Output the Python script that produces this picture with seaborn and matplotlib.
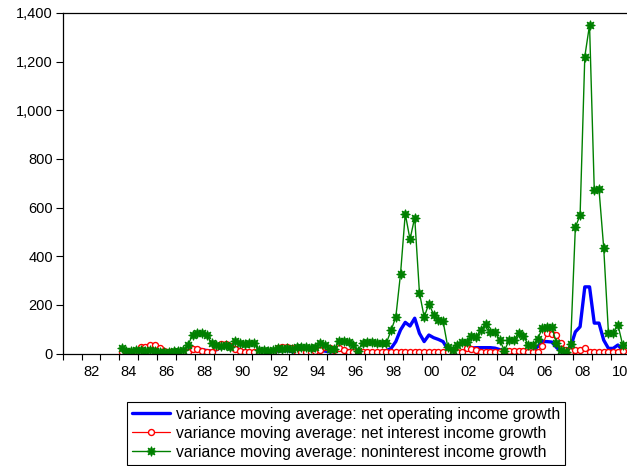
import numpy as np
import pandas as pd
import matplotlib
matplotlib.use("Agg")
import matplotlib.pyplot as plt
import seaborn as sns
from matplotlib.ticker import FuncFormatter, FixedLocator, NullFormatter

# ---- data (quarterly, 1984Q1 - 2010Q3) ----
start_year = 1984

net_operating = [
    5, 6, 8, 10,        # 1984
    12, 15, 18, 16,     # 1985
    10, 6, 4, 4,        # 1986
    5, 8, 12, 18,       # 1987
    20, 16, 12, 10,     # 1988
    15, 25, 28, 28,     # 1989
    25, 15, 8, 6,       # 1990
    5, 5, 5, 6,         # 1991
    8, 10, 12, 12,      # 1992
    8, 4, 3, 4,         # 1993
    6, 8, 12, 10,       # 1994
    6, 8, 14, 14,       # 1995
    12, 8, 5, 5,        # 1996
    5, 6, 7, 8,         # 1997
    12, 21, 49, 97,     # 1998
    128, 113, 145, 83,  # 1999
    49, 76, 65, 58,     # 2000
    49, 17, 6, 6,       # 2001
    8, 14, 22, 24,      # 2002
    24, 24, 24, 22,     # 2003
    16, 7, 8, 8,        # 2004
    8, 8, 8, 10,        # 2005
    28, 49, 49, 47,     # 2006
    25, 7, 5, 28,       # 2007
    89, 110, 274, 274,  # 2008
    125, 125, 55, 21,   # 2009
    21, 35, 14,         # 2010
]

net_interest = [
    5, 6, 8, 12,
    28, 28, 35, 35,
    24, 12, 5, 5,
    5, 5, 8, 18,
    18, 11, 7, 7,
    28, 38, 38, 32,
    20, 10, 7, 8,
    8, 5, 5, 5,
    8, 24, 28, 28,
    24, 8, 7, 7,
    7, 10, 14, 28,
    24, 16, 21, 14,
    7, 5, 5, 5,
    7, 7, 7, 7,
    7, 7, 7, 8,
    8, 8, 8, 7,
    7, 8, 8, 8,
    7, 5, 5, 5,
    8, 21, 17, 13,
    8, 8, 7, 7,
    5, 5, 12, 12,
    12, 12, 8, 8,
    7, 31, 83, 81,
    76, 42, 14, 10,
    14, 14, 21, 7,
    7, 7, 7, 7,
    7, 7, 10,
]

noninterest = [
    21, 11, 11, 14,
    14, 11, 14, 11,
    7, 7, 7, 11,
    11, 14, 35, 76,
    83, 83, 76, 42,
    35, 31, 35, 28,
    50, 42, 40, 42,
    42, 14, 14, 11,
    14, 21, 18, 21,
    18, 28, 28, 28,
    21, 28, 42, 35,
    18, 18, 53, 53,
    49, 35, 12, 45,
    47, 47, 45, 43,
    43, 95, 150, 328,
    575, 469, 559, 250,
    150, 205, 160, 136,
    133, 26, 16, 33,
    47, 47, 71, 68,
    97, 122, 88, 88,
    54, 12, 56, 56,
    84, 74, 36, 36,
    58, 104, 110, 110,
    42, 14, 7, 40,
    520, 568, 1221, 1351,
    674, 676, 434, 85,
    85, 119, 36,
]

series_labels = [
    "variance moving average: net operating income growth",
    "variance moving average: net interest income growth",
    "variance moving average: noninterest income growth",
]

year_labels = ["82", "84", "86", "88", "90", "92", "94", "96", "98",
               "00", "02", "04", "06", "08", "10"]
label_years = [1982 + 2 * i for i in range(len(year_labels))]
y_ticks = [0, 200, 400, 600, 800, 1000, 1200, 1400]

n = len(net_operating)
t = [start_year + i // 4 + ((i % 4) + 0.5) / 4 for i in range(n)]
df = pd.DataFrame({"t": t, "op": net_operating, "ni": net_interest, "nn": noninterest})

# ---- style ----
sns.set_theme(style="ticks")
plt.rcParams["font.family"] = ["Liberation Sans", "DejaVu Sans"]
plt.rcParams["text.color"] = "black"
plt.rcParams["xtick.color"] = "black"
plt.rcParams["ytick.color"] = "black"
plt.rcParams["axes.edgecolor"] = "black"

fig = plt.figure(figsize=(6.27, 4.66), dpi=100)
ax = fig.add_axes([0.1, 1 - 353.5 / 466, 567 / 627, 340.5 / 466])

sns.lineplot(data=df, x="t", y="op", ax=ax, color="#0000ff", lw=2.4,
             label=series_labels[0])
sns.lineplot(data=df, x="t", y="ni", ax=ax, color="#ff0000", lw=0.9,
             marker="o", markersize=4.3, mfc="white", mec="#ff0000", mew=1.0,
             label=series_labels[1])
sns.lineplot(data=df, x="t", y="nn", ax=ax, color="#008000", lw=1.0,
             marker=(8, 1, 0), markersize=7, mfc="#008000", mec="#008000", mew=0.7,
             label=series_labels[2])

ax.set_xlim(1981, 2011)
ax.set_ylim(0, 1400)
ax.set_xlabel("")
ax.set_ylabel("")

# x: year-boundary ticks, labels centered in the year
ax.xaxis.set_major_locator(FixedLocator(list(range(1981, 2012))))
ax.xaxis.set_major_formatter(NullFormatter())
ax.xaxis.set_minor_locator(FixedLocator([y + 0.5 for y in label_years]))
ax.set_xticklabels(year_labels, minor=True)
ax.tick_params(axis="x", which="major", direction="out", length=4.5, width=0.8)
ax.tick_params(axis="x", which="minor", length=0, pad=8.5, labelsize=10.5)

ax.set_yticks(y_ticks)
ax.yaxis.set_major_formatter(FuncFormatter(lambda v, p: f"{v:,.0f}"))
ax.tick_params(axis="y", direction="out", length=5, width=0.8, pad=2, labelsize=10.5)

for s in ax.spines.values():
    s.set_visible(True)
    s.set_linewidth(0.9)
    s.set_color("black")

leg = ax.legend(loc="upper center", bbox_to_anchor=(0.5, -0.142), ncol=1,
                frameon=True, fancybox=False, edgecolor="black", framealpha=1,
                fontsize=11.3, handlelength=2.4, handletextpad=0.35,
                labelspacing=0.25, borderpad=0.32, borderaxespad=0, numpoints=1)
leg.get_frame().set_linewidth(0.8)

fig.savefig("out.png", dpi=100)
